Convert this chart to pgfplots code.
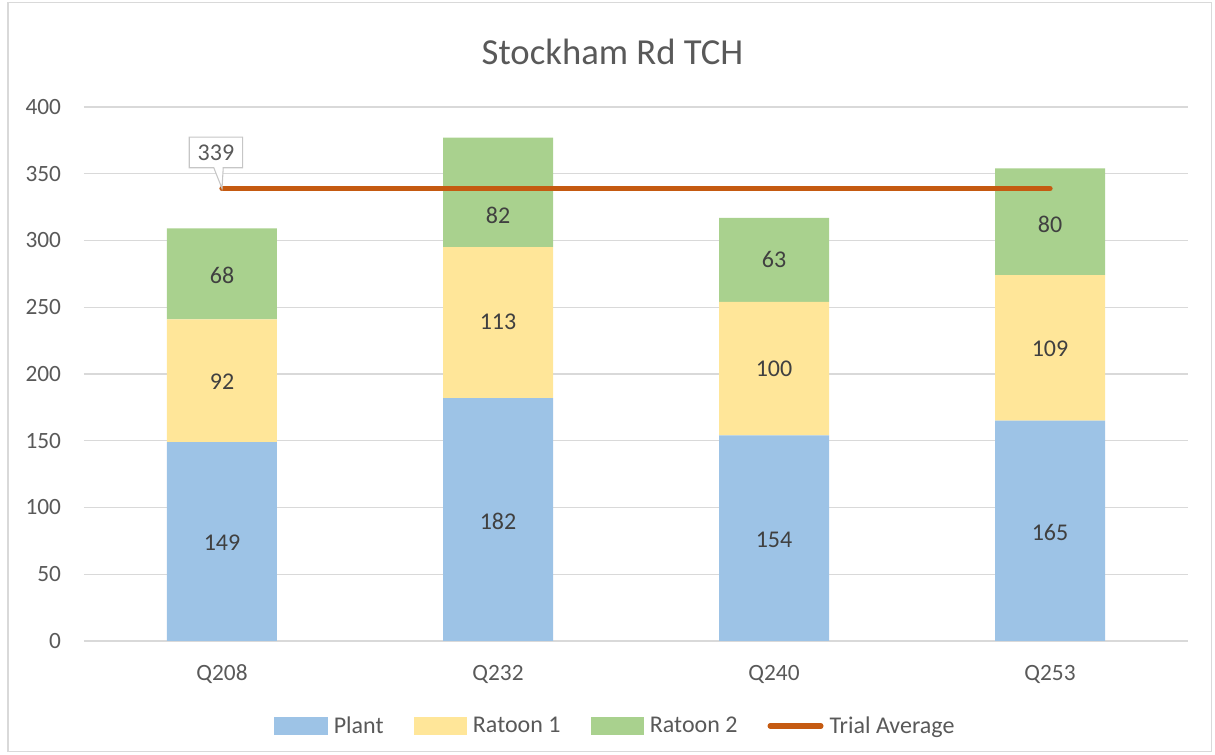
\documentclass[border=0pt]{standalone}
\usepackage{pgfplots}
\pgfplotsset{compat=1.18}
\usetikzlibrary{shapes.callouts}
\usepackage{fontspec}
\setmainfont{Carlito}
\definecolor{plantc}{HTML}{9DC3E6}
\definecolor{rat1c}{HTML}{FFE699}
\definecolor{rat2c}{HTML}{A9D18E}
\definecolor{trialc}{HTML}{C55A11}
\definecolor{textc}{HTML}{595959}
\definecolor{labc}{HTML}{404040}
\definecolor{gridc}{HTML}{D9D9D9}
\begin{document}
\begin{tikzpicture}
\path[use as bounding box] (-63pt,-85.5pt) rectangle (848.25pt,480.75pt);
\draw[draw=gridc, line width=1pt] (-57pt,-83pt) rectangle (845.5pt,479pt);
\begin{axis}[
  at={(0pt,0pt)}, anchor=south west,
  scale only axis, width=828pt, height=400.5pt,
  ybar stacked, bar width=82.5pt,
  xmin=-0.5, xmax=3.5, ymin=0, ymax=400,
  xtick={0,1,2,3}, xticklabels={Q208,Q232,Q240,Q253},
  ytick={0,50,...,400},
  ymajorgrids, grid style={draw=gridc, line width=1pt},
  axis line style={draw=none},
  major tick length=0pt, tick style={draw=none},
  /pgf/number format/assume math mode=true,
  tick label style={font=\fontsize{17.5}{20}\selectfont, text=textc},
  yticklabel style={anchor=east, inner sep=0pt, xshift=-17pt},
  xticklabel style={anchor=base, inner sep=0pt, yshift=-29.5pt},
  legend columns=4,
  legend style={at={(0.4832,-0.159)}, anchor=center, draw=none, fill=none,
    font=\fontsize{18}{20}\selectfont, text=textc,
    nodes={inner xsep=4.5pt, inner ysep=1pt},
    /tikz/every even column/.append style={column sep=18pt}},
  clip=false,
]
\addplot[fill=plantc, draw=none, legend image code/.code={\fill[plantc] (0pt,-6.75pt) rectangle (40pt,6.75pt);}] coordinates {(0,149) (1,182) (2,154) (3,165)};
\addlegendentry{Plant}
\addplot[fill=rat1c, draw=none, legend image code/.code={\fill[rat1c] (0pt,-6.75pt) rectangle (40pt,6.75pt);}] coordinates {(0,92) (1,113) (2,100) (3,109)};
\addlegendentry{Ratoon 1}
\addplot[fill=rat2c, draw=none, legend image code/.code={\fill[rat2c] (0pt,-6.75pt) rectangle (40pt,6.75pt);}] coordinates {(0,68) (1,82) (2,63) (3,80)};
\addlegendentry{Ratoon 2}
\addlegendimage{legend image code/.code={\draw[trialc, line width=4pt, line cap=round] (2pt,0pt) -- (40pt,0pt);}}
\addlegendentry{Trial Average}
\end{axis}
\begin{axis}[
  at={(0pt,0pt)}, anchor=south west,
  scale only axis, width=828pt, height=400.5pt,
  xmin=-0.5, xmax=3.5, ymin=0, ymax=400,
  hide axis, clip=false,
]
\addplot[draw=none, nodes near coords, point meta=explicit symbolic,
  nodes near coords align={center},
  every node near coord/.append style={font=\fontsize{18}{20}\selectfont, text=labc, anchor=center}]
  table[meta=lab] {
x y lab
0 73.5 149
1 89.5 182
2 76 154
3 81.2 165
0 194 92
1 239 113
2 203.7 100
3 218.7 109
0 274 68
1 319 82
2 285.4 63
3 312 80
};
\addplot[trialc, line width=4pt, line cap=round] coordinates {(0,339) (3,339)};
\node[rectangle callout, draw=gray!45, fill=white, line width=0.8pt, text=textc,
  font=\fontsize{18}{20}\selectfont, minimum width=40pt, minimum height=23pt, inner sep=0pt,
  callout absolute pointer={(axis cs:0,339)}] at (axis cs:-0.022,366) {339};
\end{axis}
\node[font=\fontsize{27.5}{32}\selectfont, text=textc] at (396.4pt,441.75pt) {Stockham Rd TCH};
\end{tikzpicture}
\end{document}
